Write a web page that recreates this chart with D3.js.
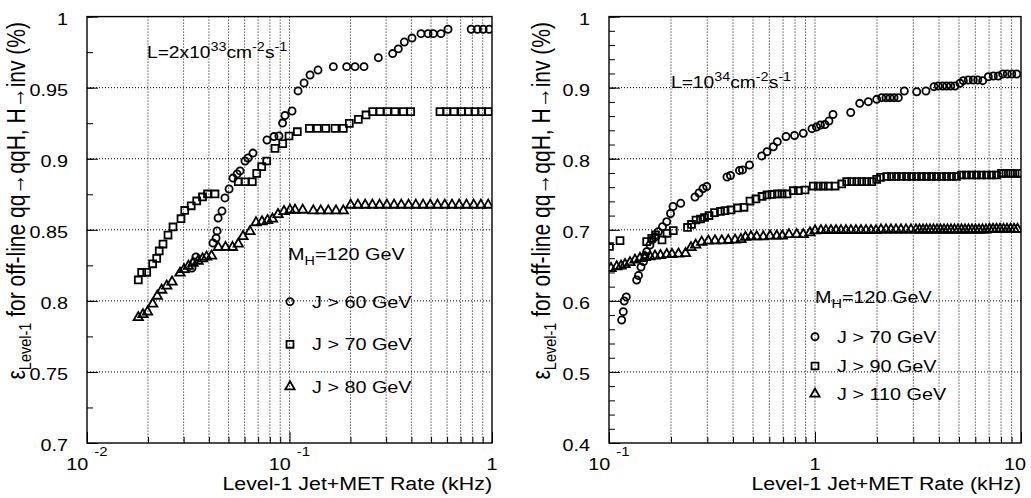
<!DOCTYPE html>
<html><head><meta charset="utf-8">
<script src="https://cdn.jsdelivr.net/npm/d3@7"></script>
<style>
body{margin:0;background:#fff}
text{font-family:"Liberation Sans",Arial,Helvetica,sans-serif;fill:#000}
.grid{stroke:#000;stroke-width:1;stroke-dasharray:1,2}
.tick line{stroke:#000;stroke-width:1}
</style>
</head><body>
<svg id="c" width="1031" height="498"></svg>
<script>
// ---------------- DATA ----------------
// Left panel: L = 2x10^33, rate (kHz) vs efficiency
const leftJ60 = [[0.0330,0.8231],[0.0338,0.8273],[0.0345,0.8309],[0.0419,0.8407],[0.0434,0.8442],[0.0439,0.8492],[0.0444,0.8583],[0.0464,0.8632],[0.0480,0.8724],[0.0503,0.8787],[0.0526,0.8864],[0.0551,0.8893],[0.0570,0.8914],[0.0603,0.8984],[0.0624,0.9005],[0.0660,0.9040],[0.0774,0.9132],[0.0838,0.9156],[0.0887,0.9160],[0.0924,0.9251],[0.0950,0.9304],[0.1029,0.9336],[0.1102,0.9477],[0.1180,0.9533],[0.1263,0.9589],[0.1383,0.9624],[0.1646,0.9648],[0.1916,0.9648],[0.2106,0.9648],[0.2333,0.9648],[0.2745,0.9711],[0.3233,0.9740],[0.3446,0.9773],[0.3690,0.9821],[0.4027,0.9849],[0.4462,0.9880],[0.4831,0.9880],[0.5130,0.9880],[0.5598,0.9880],[0.6064,0.9911],[0.7894,0.9911],[0.8478,0.9911],[0.9045,0.9911],[0.9687,0.9911]];
const leftJ70 = [[0.01792,0.8147],[0.01862,0.8200],[0.01972,0.8201],[0.02110,0.8261],[0.02209,0.8299],[0.02273,0.8351],[0.02373,0.8400],[0.02512,0.8463],[0.02659,0.8520],[0.02912,0.8578],[0.03038,0.8636],[0.03270,0.8669],[0.03481,0.8703],[0.03719,0.8731],[0.03937,0.8752],[0.04286,0.8752],[0.05587,0.8838],[0.06029,0.8838],[0.06551,0.8838],[0.06887,0.8897],[0.07291,0.8944],[0.07717,0.8984],[0.08479,0.9073],[0.09256,0.9106],[0.09943,0.9160],[0.1093,0.9190],[0.1253,0.9214],[0.1372,0.9214],[0.1510,0.9214],[0.1678,0.9214],[0.1844,0.9214],[0.1974,0.9249],[0.2187,0.9277],[0.2387,0.9308],[0.2575,0.9331],[0.2799,0.9331],[0.3041,0.9331],[0.3319,0.9331],[0.3648,0.9331],[0.3967,0.9331],[0.5535,0.9331],[0.5975,0.9331],[0.6491,0.9331],[0.7087,0.9331],[0.7638,0.9331],[0.8241,0.9331],[0.8893,0.9331],[0.9588,0.9331]];
const leftJ80 = [[0.01792,0.7883],[0.01890,0.7904],[0.01990,0.7922],[0.02110,0.7978],[0.02224,0.8034],[0.02338,0.8076],[0.02475,0.8105],[0.02630,0.8133],[0.02880,0.8196],[0.03013,0.8221],[0.03170,0.8245],[0.03338,0.8266],[0.03533,0.8280],[0.03719,0.8297],[0.03892,0.8309],[0.04121,0.8316],[0.04451,0.8377],[0.04831,0.8377],[0.05230,0.8377],[0.05587,0.8400],[0.05893,0.8453],[0.06381,0.8488],[0.06834,0.8551],[0.07316,0.8557],[0.07788,0.8566],[0.08241,0.8576],[0.08774,0.8608],[0.09394,0.8629],[0.1006,0.8639],[0.1065,0.8639],[0.1162,0.8639],[0.1311,0.8634],[0.1426,0.8634],[0.1555,0.8634],[0.1697,0.8634],[0.1844,0.8634],[0.2005,0.8674],[0.2177,0.8674],[0.2365,0.8674],[0.2566,0.8674],[0.2786,0.8674],[0.3027,0.8674],[0.3285,0.8674],[0.3565,0.8674],[0.3873,0.8674],[0.4204,0.8674],[0.4568,0.8674],[0.4958,0.8674],[0.5382,0.8674],[0.5847,0.8674],[0.6346,0.8674],[0.6887,0.8674],[0.7483,0.8674],[0.8121,0.8674],[0.8814,0.8674],[0.9576,0.8674]];

// Right panel: L = 10^34
const rightJ70 = [[0.1152,0.5731],[0.1173,0.5848],[0.1185,0.5998],[0.1213,0.6055],[0.1363,0.6294],[0.1391,0.6357],[0.1430,0.6477],[0.1471,0.6554],[0.1496,0.6632],[0.1524,0.6692],[0.1581,0.6786],[0.1617,0.6857],[0.1672,0.6899],[0.1735,0.6973],[0.1818,0.7044],[0.1906,0.7114],[0.1989,0.7229],[0.2045,0.7328],[0.2229,0.7373],[0.2615,0.7462],[0.2735,0.7518],[0.2860,0.7581],[0.2981,0.7609],[0.3740,0.7743],[0.3889,0.7764],[0.4300,0.7835],[0.4447,0.7842],[0.4809,0.7912],[0.5511,0.8039],[0.5848,0.8099],[0.6274,0.8169],[0.6561,0.8240],[0.7232,0.8313],[0.7954,0.8327],[0.8774,0.8358],[0.9670,0.8423],[1.017,0.8447],[1.063,0.8475],[1.118,0.8482],[1.169,0.8531],[1.223,0.8622],[1.491,0.8651],[1.648,0.8780],[1.815,0.8803],[1.993,0.8836],[2.108,0.8859],[2.212,0.8859],[2.313,0.8859],[2.419,0.8859],[2.537,0.8859],[2.713,0.8953],[3.117,0.8943],[3.457,0.8953],[3.782,0.9014],[3.967,0.9023],[4.168,0.9023],[4.359,0.9023],[4.558,0.9023],[4.782,0.9023],[5.057,0.9062],[5.248,0.9098],[5.549,0.9108],[5.867,0.9108],[6.165,0.9108],[6.518,0.9098],[6.940,0.9154],[7.338,0.9164],[7.760,0.9164],[8.152,0.9192],[8.581,0.9192],[9.015,0.9192],[9.530,0.9192]];
const rightJ90 = [[0.1005,0.6765],[0.1131,0.6847],[0.1524,0.6833],[0.1612,0.6881],[0.1682,0.6927],[0.1809,0.6857],[0.1912,0.6951],[0.2051,0.6988],[0.2405,0.7033],[0.2515,0.7075],[0.2645,0.7138],[0.2781,0.7152],[0.2908,0.7173],[0.3058,0.7201],[0.3252,0.7241],[0.3477,0.7258],[0.3657,0.7269],[0.3910,0.7279],[0.4205,0.7307],[0.4520,0.7317],[0.4835,0.7405],[0.5171,0.7434],[0.5530,0.7469],[0.5848,0.7490],[0.6183,0.7497],[0.6577,0.7504],[0.6918,0.7504],[0.7313,0.7504],[0.7848,0.7550],[0.8297,0.7550],[0.8945,0.7560],[0.9812,0.7616],[1.037,0.7616],[1.097,0.7616],[1.160,0.7616],[1.252,0.7616],[1.348,0.7645],[1.425,0.7677],[1.508,0.7677],[1.594,0.7677],[1.686,0.7677],[1.782,0.7677],[1.885,0.7677],[1.993,0.7711],[2.080,0.7739],[2.229,0.7750],[2.352,0.7750],[2.486,0.7750],[2.630,0.7750],[2.781,0.7750],[2.941,0.7750],[3.110,0.7750],[3.289,0.7750],[3.478,0.7750],[3.678,0.7750],[3.889,0.7750],[4.113,0.7750],[4.349,0.7750],[4.599,0.7750],[4.863,0.7750],[5.143,0.7771],[5.438,0.7771],[5.751,0.7771],[6.081,0.7771],[6.431,0.7771],[6.801,0.7771],[7.192,0.7771],[7.605,0.7771],[8.041,0.7795],[8.455,0.7795],[8.892,0.7795],[9.352,0.7795],[9.833,0.7795]];
const rightJ110 = [[0.1023,0.6458],[0.1090,0.6481],[0.1144,0.6491],[0.1196,0.6512],[0.1265,0.6540],[0.1337,0.6575],[0.1414,0.6599],[0.1496,0.6613],[0.1581,0.6624],[0.1672,0.6632],[0.1778,0.6639],[0.1906,0.6653],[0.2022,0.6655],[0.2175,0.6660],[0.2352,0.6667],[0.2501,0.6751],[0.2636,0.6786],[0.2818,0.6828],[0.3034,0.6843],[0.3270,0.6847],[0.3525,0.6847],[0.3794,0.6852],[0.4091,0.6857],[0.4373,0.6866],[0.4598,0.6895],[0.4890,0.6903],[0.5212,0.6903],[0.5610,0.6903],[0.6048,0.6913],[0.6519,0.6913],[0.6938,0.6913],[0.7476,0.6934],[0.8151,0.6934],[0.8774,0.6934],[0.9456,0.6959],[1.000,0.6988],[1.069,0.699],[1.130,0.699],[1.196,0.699],[1.265,0.699],[1.337,0.699],[1.414,0.699],[1.495,0.699],[1.581,0.699],[1.672,0.699],[1.768,0.699],[1.870,0.699],[1.978,0.699],[2.091,0.700],[2.212,0.700],[2.338,0.700],[2.473,0.700],[2.615,0.700],[2.765,0.700],[2.924,0.700],[3.092,0.700],[3.216,0.700],[3.345,0.700],[3.478,0.700],[3.617,0.700],[3.761,0.700],[3.911,0.700],[4.067,0.700],[4.229,0.700],[4.398,0.700],[4.573,0.700],[4.756,0.700],[4.945,0.700],[5.143,0.700],[5.348,0.700],[5.561,0.700],[5.782,0.700],[6.013,0.700],[6.253,0.700],[6.502,0.700],[6.761,0.700],[7.032,0.701],[7.312,0.701],[7.605,0.701],[7.908,0.701],[8.222,0.701],[8.551,0.701],[8.892,0.701],[9.247,0.701],[9.616,0.701]];

// Axis ticks / labels
const leftXDomain = [0.01, 1];
const leftXLabels = [[0.01,"10","-2"],[0.1,"10","-1"],[1,"1",""]];
const leftYDomain = [0.7, 1.0];
const leftYMajor = [0.7,0.75,0.8,0.85,0.9,0.95,1.0];
const leftYMajorLabels = ["0.7","0.75","0.8","0.85","0.9","0.95","1"];
const leftYMinorStep = 0.025;
const leftLegend = ["J > 60 GeV","J > 70 GeV","J > 80 GeV"];

const rightXDomain = [0.1, 10];
const rightXLabels = [[0.1,"10","-1"],[1,"1",""],[10,"10",""]];
const rightYDomain = [0.4, 1.0];
const rightYMajor = [0.4,0.5,0.6,0.7,0.8,0.9,1.0];
const rightYMajorLabels = ["0.4","0.5","0.6","0.7","0.8","0.9","1"];
const rightYMinorStep = 0.02;
const rightLegend = ["J > 70 GeV","J > 90 GeV","J > 110 GeV"];

// ---------------- DRAWING ----------------
const SX = 1.2;          // horizontal stretch of the original's lettering
const Y0 = 16.6, Y1 = 443;
const svg = d3.select("#c");

function addText(g, x, y, parts, o) {
  o = o || {};
  const t = g.append("text")
    .attr("transform", `translate(${x},${y}) scale(${SX},1)` + (o.rotate ? " rotate(-90)" : ""))
    .attr("text-anchor", o.anchor || "start")
    .style("font-size", (o.size || 16) + "px");
  parts.forEach(p => {
    t.append("tspan").text(p.t).attr("dy", p.dy || 0).attr("dx", p.dx || 0)
      .style("font-size", (p.size || o.size || 16) + "px");
  });
  return t;
}

const symCircle = d3.symbol().type(d3.symbolCircle).size(40)();
const symSquare = d3.symbol().type(d3.symbolSquare).size(48)();
const symTri = d3.symbol().type(d3.symbolTriangle).size(38)();
const syms = [symCircle, symSquare, symTri];
const MSW = 1.8;

function panel(p) {
  const g = svg.append("g");
  const x = d3.scaleLog().domain(p.xDomain).range([p.x0, p.x1]);
  const y = d3.scaleLinear().domain(p.yDomain).range([Y1, Y0]);
  const clipId = "clip" + p.name;
  svg.append("clipPath").attr("id", clipId).append("rect")
    .attr("x", p.x0).attr("y", Y0).attr("width", p.x1 - p.x0).attr("height", Y1 - Y0);

  // grid
  const xt = x.ticks().filter(v => v > p.xDomain[0] * 1.001 && v < p.xDomain[1] * 0.999);
  g.append("g").selectAll("line").data(xt).join("line").attr("class", "grid")
    .attr("x1", d => x(d)).attr("x2", d => x(d)).attr("y1", Y0).attr("y2", Y1);
  const yt = p.yMajor.filter(v => v > p.yDomain[0] + 1e-9 && v < p.yDomain[1] - 1e-9);
  g.append("g").selectAll("line").data(yt).join("line").attr("class", "grid")
    .attr("x1", p.x0).attr("x2", p.x1).attr("y1", d => y(d)).attr("y2", d => y(d));

  // ticks (inside)
  const decades = p.xLabels.map(d => d[0]);
  const minorX = x.ticks().filter(v => !decades.some(dd => Math.abs(dd - v) / dd < 1e-6));
  const ax1 = g.append("g").attr("transform", `translate(0,${Y1})`)
    .call(d3.axisBottom(x).tickValues(minorX).tickSize(-6).tickFormat(""));
  const ax2 = g.append("g").attr("transform", `translate(0,${Y1})`)
    .call(d3.axisBottom(x).tickValues(decades).tickSize(-11).tickFormat(""));
  const nMinor = Math.round((p.yDomain[1] - p.yDomain[0]) / p.yMinorStep);
  const minorY = d3.range(nMinor + 1).map(i => p.yDomain[0] + i * p.yMinorStep);
  const ay1 = g.append("g").attr("transform", `translate(${p.x0},0)`)
    .call(d3.axisLeft(y).tickValues(minorY).tickSize(-6).tickFormat(""));
  const ay2 = g.append("g").attr("transform", `translate(${p.x0},0)`)
    .call(d3.axisLeft(y).tickValues(p.yMajor).tickSize(-11).tickFormat(""));
  [ax1, ax2, ay1, ay2].forEach(a => a.select(".domain").remove());

  // frame
  g.append("rect").attr("x", p.x0).attr("y", Y0).attr("width", p.x1 - p.x0).attr("height", Y1 - Y0)
    .attr("fill", "none").attr("stroke", "#000").attr("stroke-width", 1.4);

  // y tick labels
  p.yMajor.forEach((v, i) => addText(g, p.x0 - 19, y(v) + 8, [{t: p.yMajorLabels[i]}], {anchor: "end", size: 16.5}));
  // x tick labels
  p.xLabels.forEach(d => {
    const parts = [{t: d[1]}];
    if (d[2]) parts.push({t: d[2], size: 12.5, dx: 5, dy: -14});
    const px = d[0] === p.xDomain[1] && d[1] === "10" ? x(d[0]) - 6 : x(d[0]);
    addText(g, px, 470, parts, {anchor: "middle", size: 16.5});
  });
  // axis titles
  addText(g, p.x1, 490, [{t: "Level-1 Jet+MET Rate (kHz)"}], {anchor: "end", size: 17.8});
  addText(g, p.yTitleX, 22, [
    {t: "\u03b5"}, {t: "Level-1", size: 14.5, dy: 5},
    {t: " for off-line qq\u2192qqH, H\u2192inv (%)", dy: -5}
  ], {anchor: "end", size: 21, rotate: true});

  // data
  const pts = g.append("g").attr("clip-path", `url(#${clipId})`);
  p.series.forEach((s, k) => {
    pts.append("g").selectAll("path").data(s).join("path")
      .attr("d", syms[k])
      .attr("transform", d => `translate(${x(d[0])},${y(d[1])})`)
      .attr("fill", "none").attr("stroke", "#000").attr("stroke-width", MSW);
  });

  // annotations
  addText(g, p.lumX, p.lumY, p.lum);
  addText(g, p.mhX, p.mhY, [{t: "M"}, {t: "H", size: 12, dy: 5}, {t: "=120 GeV", dy: -5}], {size: 16.5});
  p.legend.forEach((lab, k) => {
    const ly = p.legY[k];
    g.append("path").attr("d", syms[k]).attr("transform", `translate(${p.legX},${ly})`)
      .attr("fill", "none").attr("stroke", "#000").attr("stroke-width", MSW);
    addText(g, p.legX + 22, ly + 6, [{t: lab}], {size: 16.5});
  });
}

panel({
  name: "L", x0: 87, x1: 492, xDomain: leftXDomain, xLabels: leftXLabels,
  yDomain: leftYDomain, yMajor: leftYMajor, yMajorLabels: leftYMajorLabels, yMinorStep: leftYMinorStep,
  yTitleX: 25, series: [leftJ60, leftJ70, leftJ80],
  lumX: 147, lumY: 58,
  lum: [{t: "L=2x10"}, {t: "33", size: 12, dy: -7}, {t: "cm", dy: 7}, {t: "-2", size: 12, dy: -7}, {t: "s", dy: 7}, {t: "-1", size: 12, dy: -7}],
  mhX: 288, mhY: 260, legend: leftLegend, legX: 290, legY: [301.7, 344.3, 386.7]
});
panel({
  name: "R", x0: 609, x1: 1021, xDomain: rightXDomain, xLabels: rightXLabels,
  yDomain: rightYDomain, yMajor: rightYMajor, yMajorLabels: rightYMajorLabels, yMinorStep: rightYMinorStep,
  yTitleX: 550, series: [rightJ70, rightJ90, rightJ110],
  lumX: 671, lumY: 88,
  lum: [{t: "L=10"}, {t: "34", size: 12, dy: -7}, {t: "cm", dy: 7}, {t: "-2", size: 12, dy: -7}, {t: "s", dy: 7}, {t: "-1", size: 12, dy: -7}],
  mhX: 815, mhY: 303, legend: rightLegend, legX: 815, legY: [336.7, 366, 394]
});
</script>
</body></html>
